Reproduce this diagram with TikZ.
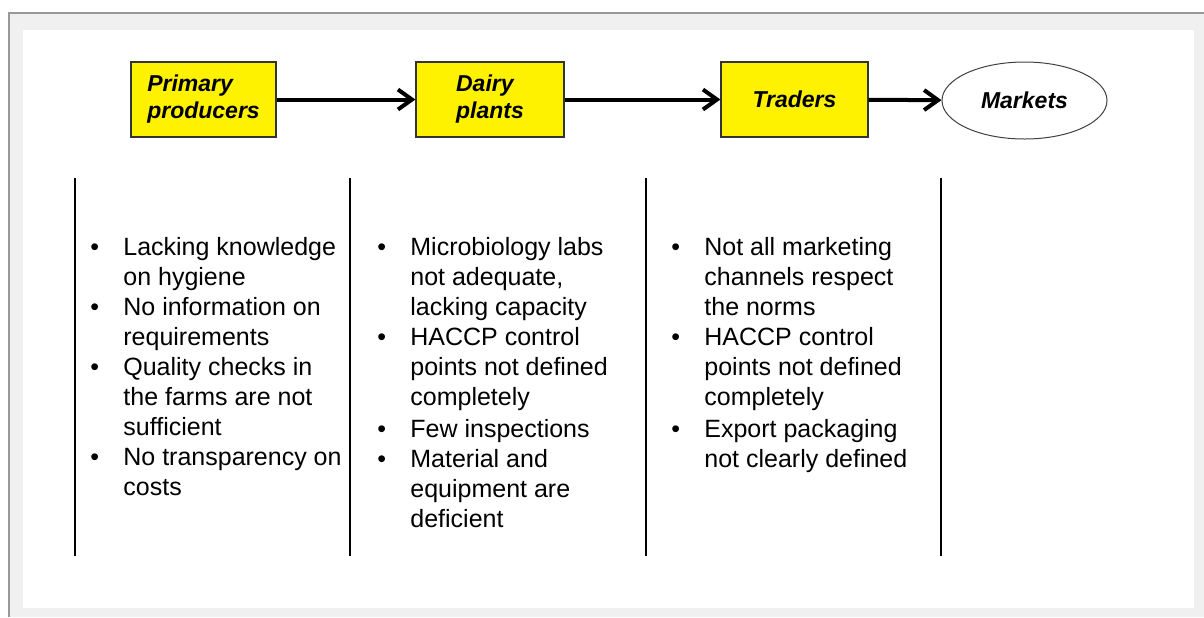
\documentclass[tikz,border=0pt]{standalone}
\usepackage{fontspec}
\setmainfont{Liberation Sans}
\usetikzlibrary{arrows.meta,positioning,shapes.geometric}

\begin{document}
\begin{tikzpicture}[
        x=0.5pt,
        y=-0.5pt,
        stage/.style={fill=yellow, draw=black!80, line width=0.6pt, minimum height=37.5pt, inner sep=0pt, align=left,
            font=\fontsize{11.5}{13.5}\selectfont\bfseries\itshape},
        market/.style={ellipse, draw=black!75, line width=0.5pt, fill=white, minimum width=82.5pt, minimum height=38.5pt,
            inner sep=0pt, font=\fontsize{11.5}{13.5}\selectfont\bfseries\itshape},
        flow/.style={-{Straight Barb[length=7pt,width=10pt]}, line width=2pt},
        divider/.style={line width=1pt},
        issues/.style={anchor=north west, inner sep=0pt, align=left, font=\fontsize{12.5}{15}\selectfont}
    ]
        \useasboundingbox (0,0) rectangle (1204,617);
        \fill[white] (0,0) rectangle (1204,617);
        \fill[black!6] (9,13) rectangle (1204,617);
        \draw[black!40, line width=0.75pt] (1204,13) -- (9,13) -- (9,617);
        \fill[white] (23,30) rectangle (1194,608);

        % chain
        \node[stage, minimum width=72.5pt] (producers) at (203.5,99.5) {Primary\\producers};
        \node[stage, minimum width=74pt] (plants) at (490,99.5) {Dairy\\plants};
        \node[stage, minimum width=73.5pt] (traders) at (794.5,99.5) {Traders};
        \node[market] (markets) at (1024.5,100.5) {Markets};

        \draw[flow] (producers) -- (plants);
        \draw[flow] (plants) -- (traders);
        \draw[flow] (traders) -- (markets);

        \foreach \x in {75,350,646,941} {
            \draw[divider] (\x,178) -- (\x,556);
        }

        % problems at each stage
        \node[issues] (prodlist) at (90,234) {\begin{tabular}{@{}p{16.5pt}@{}l@{}}
            \textbullet & Lacking knowledge\\
             & on hygiene\\
            \textbullet & No information on\\
             & requirements\\
            \textbullet & Quality checks in\\
             & the farms are not\\
             & sufficient\\
            \textbullet & No transparency on\\
             & costs
        \end{tabular}};
        \node[issues] (plantlist) at (377,234) {\begin{tabular}{@{}p{16.5pt}@{}l@{}}
            \textbullet & Microbiology labs\\
             & not adequate,\\
             & lacking capacity\\
            \textbullet & HACCP control\\
             & points not defined\\
             & completely\\[1pt]
            \textbullet & Few inspections\\
            \textbullet & Material and\\
             & equipment are\\
             & deficient
        \end{tabular}};
        \node[issues] (tradelist) at (671,234) {\begin{tabular}{@{}p{16.5pt}@{}l@{}}
            \textbullet & Not all marketing\\
             & channels respect\\
             & the norms\\
            \textbullet & HACCP control\\
             & points not defined\\
             & completely\\[1pt]
            \textbullet & Export packaging\\
             & not clearly defined
        \end{tabular}};
    \end{tikzpicture}
\end{document}
